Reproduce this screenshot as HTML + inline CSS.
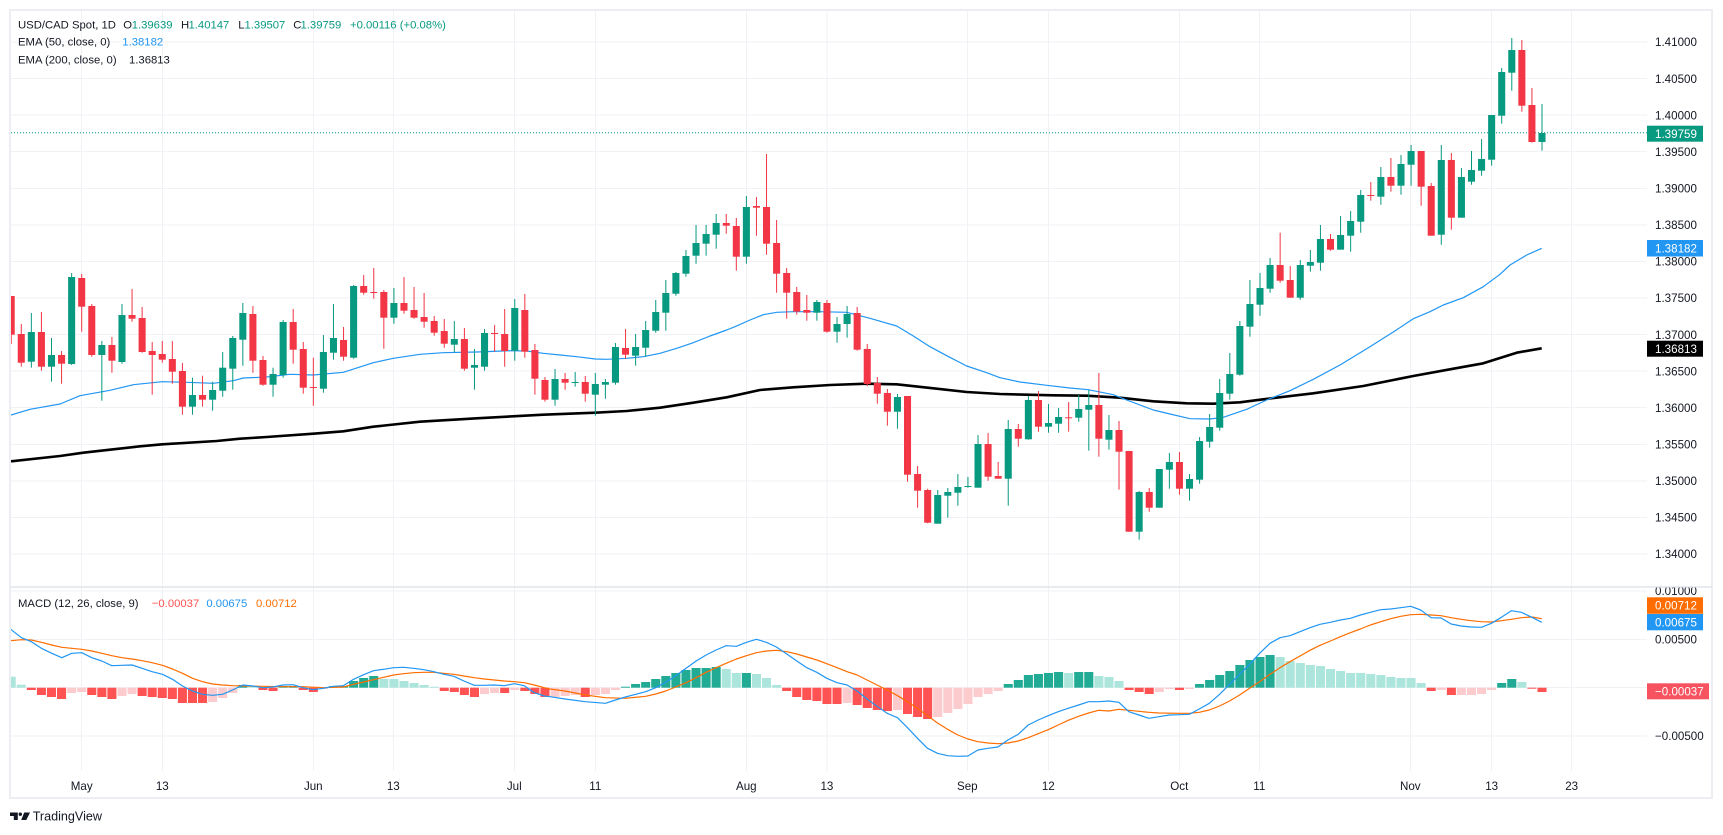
<!DOCTYPE html>
<html><head><meta charset="utf-8"><style>
html,body{margin:0;padding:0;background:#fff;}
svg{display:block;}
text{font-family:"Liberation Sans",Arial,sans-serif;fill:#131722;}
</style></head><body>
<svg width="1723" height="835" viewBox="0 0 1723 835" xmlns="http://www.w3.org/2000/svg">
<defs>
<clipPath id="cp"><rect x="11" y="11" width="1636" height="575"/></clipPath>
<clipPath id="cm"><rect x="11" y="588" width="1636" height="183"/></clipPath>
</defs>
<rect width="1723" height="835" fill="#fff"/>
<rect x="10" y="10" width="1702" height="788" fill="#fff" stroke="#eceef3" stroke-width="2"/>
<!-- grid -->
<g stroke="#f0f2f6" stroke-width="1" shape-rendering="crispEdges">
<line x1="11" x2="1647" y1="42" y2="42"/><line x1="11" x2="1647" y1="78.6" y2="78.6"/><line x1="11" x2="1647" y1="115.1" y2="115.1"/><line x1="11" x2="1647" y1="151.7" y2="151.7"/><line x1="11" x2="1647" y1="188.3" y2="188.3"/><line x1="11" x2="1647" y1="224.9" y2="224.9"/><line x1="11" x2="1647" y1="261.4" y2="261.4"/><line x1="11" x2="1647" y1="298" y2="298"/><line x1="11" x2="1647" y1="334.6" y2="334.6"/><line x1="11" x2="1647" y1="371.1" y2="371.1"/><line x1="11" x2="1647" y1="407.7" y2="407.7"/><line x1="11" x2="1647" y1="444.3" y2="444.3"/><line x1="11" x2="1647" y1="480.9" y2="480.9"/><line x1="11" x2="1647" y1="517.4" y2="517.4"/><line x1="11" x2="1647" y1="554" y2="554"/>
<line x1="11" x2="1647" y1="591" y2="591"/><line x1="11" x2="1647" y1="639.3" y2="639.3"/><line x1="11" x2="1647" y1="687.7" y2="687.7"/><line x1="11" x2="1647" y1="736" y2="736"/>
<line y1="11" y2="771" x1="81.7" x2="81.7"/><line y1="11" y2="771" x1="162.3" x2="162.3"/><line y1="11" y2="771" x1="313.3" x2="313.3"/><line y1="11" y2="771" x1="393.3" x2="393.3"/><line y1="11" y2="771" x1="514.3" x2="514.3"/><line y1="11" y2="771" x1="595.3" x2="595.3"/><line y1="11" y2="771" x1="746.3" x2="746.3"/><line y1="11" y2="771" x1="826.9" x2="826.9"/><line y1="11" y2="771" x1="967.3" x2="967.3"/><line y1="11" y2="771" x1="1048.3" x2="1048.3"/><line y1="11" y2="771" x1="1179.3" x2="1179.3"/><line y1="11" y2="771" x1="1259.3" x2="1259.3"/><line y1="11" y2="771" x1="1410.3" x2="1410.3"/><line y1="11" y2="771" x1="1491.7" x2="1491.7"/><line y1="11" y2="771" x1="1571.7" x2="1571.7"/>
</g>
<line x1="11" x2="1712" y1="587" y2="587" stroke="#e0e3eb" stroke-width="1.2"/>

<!-- price pane -->
<g clip-path="url(#cp)">
<polyline fill="none" stroke="#000" stroke-width="2.6" stroke-linejoin="round" points="11,461.3 60,456 83.3,452.7 110,449.7 140,446.3 162.3,444.3 216.7,441 240,438.7 266.7,437 313.3,433.7 343.3,431.3 373.3,426.7 420,421.7 476.7,418.3 543.3,414.7 595.3,412.7 626.7,411 660,407.7 693.3,402.7 726.7,397.3 760,390 793.3,387.3 830,385 866.7,383.7 896.7,384.3 936.7,388.7 966.7,392 1000,394 1053.3,395.3 1086.7,395.7 1120,397.7 1153.3,401.3 1186.7,403.3 1213.3,403.7 1240,402.3 1263.3,399.3 1313.3,393.3 1363.3,386 1413.3,376 1450,369.3 1483.3,363.3 1516.7,352.7 1541.7,348.3"/>
<polyline fill="none" stroke="#2196f3" stroke-width="1.2" stroke-linejoin="round" points="11,415 30,409.3 60,404 80,395.7 110,390.3 133.3,384.7 162.3,381.7 186.7,382.3 213.3,383.3 233.3,380.7 243.3,378 266.7,377 290,374.3 313.3,375 343.3,372.3 373.3,362.7 393.3,358.3 420,354.3 443.3,352.7 476.7,352 510,350.7 526.7,351 543.3,353.3 560,355 576.7,356.7 595.3,359 606.7,359.3 626.7,358.3 643.3,356.7 660,353.3 676.7,348.3 693.3,342.7 710,336 726.7,330 735,326.7 750,320 763.3,314.7 776.7,312.3 793.3,311.7 820,311.7 846.7,312.3 870,318.3 896.7,326 913.3,336 930,346.7 946.7,355.7 966.7,366 986.7,372.7 1000,377.7 1020,382 1046.7,385.3 1070,388 1088.3,389.7 1113.3,394.7 1126.7,400 1153.3,410 1170,414 1190,418.7 1210,419 1223.3,417.3 1246.7,409.3 1266.7,400 1290,390.7 1313.3,379.3 1340,365 1366.7,348.7 1393.3,332 1413.3,318.7 1430,311.7 1443.3,305 1463.3,297.7 1483.3,286.7 1500,274.3 1510,265 1526.7,255 1541.7,248.3"/>
<line x1="11" x2="1647" y1="132.8" y2="132.8" stroke="#089981" stroke-width="1" stroke-dasharray="1 2"/>
<g transform="translate(81.7 0) scale(10.071 1)">
<g fill="#089981">
<rect x="-5.05" y="313" width="0.1" height="54.7"/><rect x="-5.35" y="332" width="0.7" height="29.7"/>
<rect x="-3.05" y="338" width="0.1" height="43.7"/><rect x="-3.35" y="355" width="0.7" height="11.7"/>
<rect x="-1.05" y="273" width="0.1" height="92"/><rect x="-1.35" y="277" width="0.7" height="87"/>
<rect x="1.95" y="341" width="0.1" height="59.7"/><rect x="1.65" y="345" width="0.7" height="10"/>
<rect x="3.95" y="304" width="0.1" height="59.7"/><rect x="3.65" y="315" width="0.7" height="47"/>
<rect x="10.95" y="377.7" width="0.1" height="37"/><rect x="10.65" y="395" width="0.7" height="11.7"/>
<rect x="12.95" y="381.7" width="0.1" height="29"/><rect x="12.65" y="390" width="0.7" height="9.7"/>
<rect x="13.95" y="352" width="0.1" height="44.7"/><rect x="13.65" y="367.7" width="0.7" height="23"/>
<rect x="14.95" y="336" width="0.1" height="53.7"/><rect x="14.65" y="338" width="0.7" height="30.7"/>
<rect x="15.95" y="303" width="0.1" height="62.7"/><rect x="15.65" y="313" width="0.7" height="26.7"/>
<rect x="18.95" y="367.7" width="0.1" height="29"/><rect x="18.65" y="374" width="0.7" height="10.7"/>
<rect x="19.95" y="320" width="0.1" height="57.7"/><rect x="19.65" y="322" width="0.7" height="53"/>
<rect x="23.95" y="335" width="0.1" height="57.7"/><rect x="23.65" y="352" width="0.7" height="36.7"/>
<rect x="24.95" y="304" width="0.1" height="55.7"/><rect x="24.65" y="338" width="0.7" height="14.7"/>
<rect x="26.95" y="285" width="0.1" height="73.7"/><rect x="26.65" y="286" width="0.7" height="71.7"/>
<rect x="30.95" y="288" width="0.1" height="35.7"/><rect x="30.65" y="303" width="0.7" height="14.7"/>
<rect x="36.95" y="321" width="0.1" height="31.3"/><rect x="36.65" y="339" width="0.7" height="5.7"/>
<rect x="38.95" y="349" width="0.1" height="40.7"/><rect x="38.65" y="365" width="0.7" height="2.7"/>
<rect x="39.95" y="329" width="0.1" height="41.7"/><rect x="39.65" y="333" width="0.7" height="33.7"/>
<rect x="42.95" y="299" width="0.1" height="61.7"/><rect x="42.65" y="308" width="0.7" height="42.7"/>
<rect x="46.95" y="369" width="0.1" height="36.7"/><rect x="46.65" y="379" width="0.7" height="20.7"/>
<rect x="48.95" y="372" width="0.1" height="14.7"/><rect x="48.65" y="382" width="0.7" height="1"/>
<rect x="50.95" y="373" width="0.1" height="42.7"/><rect x="50.65" y="384" width="0.7" height="10.7"/>
<rect x="51.95" y="379" width="0.1" height="19.7"/><rect x="51.65" y="382" width="0.7" height="2.7"/>
<rect x="52.95" y="343" width="0.1" height="41.7"/><rect x="52.65" y="347" width="0.7" height="35.7"/>
<rect x="54.95" y="334" width="0.1" height="31.7"/><rect x="54.65" y="347" width="0.7" height="8.7"/>
<rect x="55.95" y="321" width="0.1" height="35.7"/><rect x="55.65" y="330" width="0.7" height="17.7"/>
<rect x="56.95" y="300" width="0.1" height="32.7"/><rect x="56.65" y="312" width="0.7" height="18.7"/>
<rect x="57.95" y="280" width="0.1" height="50.7"/><rect x="57.65" y="293" width="0.7" height="19.7"/>
<rect x="58.95" y="272" width="0.1" height="23.7"/><rect x="58.65" y="273" width="0.7" height="20.7"/>
<rect x="59.95" y="250" width="0.1" height="26.7"/><rect x="59.65" y="256" width="0.7" height="17.7"/>
<rect x="60.95" y="225" width="0.1" height="38.7"/><rect x="60.65" y="243" width="0.7" height="12.7"/>
<rect x="61.95" y="225" width="0.1" height="30.7"/><rect x="61.65" y="234" width="0.7" height="9.7"/>
<rect x="62.95" y="214" width="0.1" height="34.7"/><rect x="62.65" y="223" width="0.7" height="11.7"/>
<rect x="65.95" y="196" width="0.1" height="67.7"/><rect x="65.65" y="207" width="0.7" height="49.7"/>
<rect x="72.95" y="300" width="0.1" height="20.7"/><rect x="72.65" y="302" width="0.7" height="10.7"/>
<rect x="74.95" y="317" width="0.1" height="25.7"/><rect x="74.65" y="324" width="0.7" height="7.7"/>
<rect x="75.95" y="306" width="0.1" height="31.7"/><rect x="75.65" y="314" width="0.7" height="10"/>
<rect x="80.95" y="394" width="0.1" height="34.7"/><rect x="80.65" y="397" width="0.7" height="14.7"/>
<rect x="84.95" y="490" width="0.1" height="33.7"/><rect x="84.65" y="495" width="0.7" height="28.7"/>
<rect x="85.95" y="488" width="0.1" height="29.7"/><rect x="85.65" y="492" width="0.7" height="3.7"/>
<rect x="86.95" y="474" width="0.1" height="31.7"/><rect x="86.65" y="487" width="0.7" height="5.7"/>
<rect x="87.95" y="477" width="0.1" height="10.7"/><rect x="87.65" y="486" width="0.7" height="1"/>
<rect x="88.95" y="435" width="0.1" height="52.7"/><rect x="88.65" y="444" width="0.7" height="43.7"/>
<rect x="91.95" y="420" width="0.1" height="85.7"/><rect x="91.65" y="429" width="0.7" height="49.7"/>
<rect x="93.95" y="396" width="0.1" height="43.7"/><rect x="93.65" y="400" width="0.7" height="39.3"/>
<rect x="95.95" y="404" width="0.1" height="28.7"/><rect x="95.65" y="423" width="0.7" height="3.7"/>
<rect x="96.95" y="408" width="0.1" height="24.7"/><rect x="96.65" y="417" width="0.7" height="6.7"/>
<rect x="98.95" y="395" width="0.1" height="26.7"/><rect x="98.65" y="409" width="0.7" height="8.7"/>
<rect x="99.95" y="390" width="0.1" height="60.7"/><rect x="99.65" y="405" width="0.7" height="4.7"/>
<rect x="101.95" y="415" width="0.1" height="34.7"/><rect x="101.65" y="430" width="0.7" height="9.7"/>
<rect x="104.95" y="491" width="0.1" height="48.7"/><rect x="104.65" y="492" width="0.7" height="39.7"/>
<rect x="106.95" y="469" width="0.1" height="38.7"/><rect x="106.65" y="469" width="0.7" height="38.7"/>
<rect x="107.95" y="453" width="0.1" height="35.7"/><rect x="107.65" y="462" width="0.7" height="7.7"/>
<rect x="109.95" y="474" width="0.1" height="26.7"/><rect x="109.65" y="479" width="0.7" height="9.7"/>
<rect x="110.95" y="437" width="0.1" height="46.7"/><rect x="110.65" y="441" width="0.7" height="38.7"/>
<rect x="111.95" y="414" width="0.1" height="33.7"/><rect x="111.65" y="427" width="0.7" height="14.7"/>
<rect x="112.95" y="379" width="0.1" height="51.7"/><rect x="112.65" y="393" width="0.7" height="34.7"/>
<rect x="113.95" y="353" width="0.1" height="46.7"/><rect x="113.65" y="374" width="0.7" height="19.7"/>
<rect x="114.95" y="321" width="0.1" height="54.7"/><rect x="114.65" y="326" width="0.7" height="48.7"/>
<rect x="115.95" y="280" width="0.1" height="56.7"/><rect x="115.65" y="304" width="0.7" height="22.7"/>
<rect x="116.95" y="273" width="0.1" height="42.7"/><rect x="116.65" y="288" width="0.7" height="16.7"/>
<rect x="117.95" y="258" width="0.1" height="34.7"/><rect x="117.65" y="265" width="0.7" height="23.7"/>
<rect x="120.95" y="260" width="0.1" height="39.7"/><rect x="120.65" y="265" width="0.7" height="32.7"/>
<rect x="121.95" y="250" width="0.1" height="21.7"/><rect x="121.65" y="262" width="0.7" height="3.7"/>
<rect x="122.95" y="225" width="0.1" height="45.7"/><rect x="122.65" y="239" width="0.7" height="23.7"/>
<rect x="124.95" y="216" width="0.1" height="33.7"/><rect x="124.65" y="235" width="0.7" height="14.7"/>
<rect x="125.95" y="211" width="0.1" height="40.7"/><rect x="125.65" y="221" width="0.7" height="14.7"/>
<rect x="126.95" y="190" width="0.1" height="42.7"/><rect x="126.65" y="195" width="0.7" height="26.7"/>
<rect x="128.95" y="167" width="0.1" height="37.7"/><rect x="128.65" y="177" width="0.7" height="19.7"/>
<rect x="130.95" y="155" width="0.1" height="39.7"/><rect x="130.65" y="164" width="0.7" height="21.7"/>
<rect x="131.95" y="145" width="0.1" height="40.7"/><rect x="131.65" y="151" width="0.7" height="13.7"/>
<rect x="134.95" y="145" width="0.1" height="99.7"/><rect x="134.65" y="160" width="0.7" height="74.7"/>
<rect x="136.95" y="168" width="0.1" height="49.7"/><rect x="136.65" y="177" width="0.7" height="40.7"/>
<rect x="137.95" y="151" width="0.1" height="33.7"/><rect x="137.65" y="170" width="0.7" height="11.7"/>
<rect x="138.95" y="139" width="0.1" height="36.7"/><rect x="138.65" y="159" width="0.7" height="11.7"/>
<rect x="139.95" y="115" width="0.1" height="50.7"/><rect x="139.65" y="115" width="0.7" height="44.7"/>
<rect x="140.95" y="68" width="0.1" height="55.7"/><rect x="140.65" y="72" width="0.7" height="43.7"/>
<rect x="141.95" y="38" width="0.1" height="52.7"/><rect x="141.65" y="50" width="0.7" height="22.7"/>
<rect x="144.95" y="104" width="0.1" height="46.7"/><rect x="144.65" y="133" width="0.7" height="9"/>
</g>
<g fill="#f23645">
<rect x="-7.05" y="296" width="0.1" height="48"/><rect x="-7.35" y="296" width="0.7" height="38.7"/>
<rect x="-6.05" y="324" width="0.1" height="42.7"/><rect x="-6.35" y="334" width="0.7" height="28.7"/>
<rect x="-4.05" y="312" width="0.1" height="58.7"/><rect x="-4.35" y="332" width="0.7" height="34.7"/>
<rect x="-2.05" y="351" width="0.1" height="32.7"/><rect x="-2.35" y="355" width="0.7" height="8.7"/>
<rect x="-0.05" y="274" width="0.1" height="57.7"/><rect x="-0.35" y="278" width="0.7" height="28.7"/>
<rect x="0.95" y="304" width="0.1" height="52.7"/><rect x="0.65" y="306" width="0.7" height="49"/>
<rect x="2.95" y="337" width="0.1" height="35.7"/><rect x="2.65" y="345" width="0.7" height="15.7"/>
<rect x="4.95" y="289" width="0.1" height="32.7"/><rect x="4.65" y="315" width="0.7" height="3.7"/>
<rect x="5.95" y="307" width="0.1" height="45.7"/><rect x="5.65" y="318" width="0.7" height="34"/>
<rect x="6.95" y="342" width="0.1" height="52.7"/><rect x="6.65" y="351" width="0.7" height="4"/>
<rect x="7.95" y="341" width="0.1" height="21.7"/><rect x="7.65" y="354" width="0.7" height="5.7"/>
<rect x="8.95" y="341" width="0.1" height="42.7"/><rect x="8.65" y="359" width="0.7" height="12.7"/>
<rect x="9.95" y="363" width="0.1" height="51.7"/><rect x="9.65" y="371" width="0.7" height="35.7"/>
<rect x="11.95" y="375.7" width="0.1" height="31"/><rect x="11.65" y="395" width="0.7" height="4.7"/>
<rect x="16.95" y="306" width="0.1" height="66.7"/><rect x="16.65" y="314" width="0.7" height="46.7"/>
<rect x="17.95" y="356" width="0.1" height="29.7"/><rect x="17.65" y="360" width="0.7" height="24.7"/>
<rect x="20.95" y="309" width="0.1" height="54.7"/><rect x="20.65" y="322" width="0.7" height="27.7"/>
<rect x="21.95" y="342" width="0.1" height="51.7"/><rect x="21.65" y="349" width="0.7" height="38.7"/>
<rect x="22.95" y="357.7" width="0.1" height="48"/><rect x="22.65" y="387" width="0.7" height="1"/>
<rect x="25.95" y="327" width="0.1" height="33.7"/><rect x="25.65" y="340" width="0.7" height="16.7"/>
<rect x="27.95" y="275" width="0.1" height="19.7"/><rect x="27.65" y="286" width="0.7" height="6.7"/>
<rect x="28.95" y="268" width="0.1" height="30.7"/><rect x="28.65" y="292" width="0.7" height="1"/>
<rect x="29.95" y="290" width="0.1" height="58.7"/><rect x="29.65" y="292" width="0.7" height="25.7"/>
<rect x="31.95" y="277" width="0.1" height="36.7"/><rect x="31.65" y="303" width="0.7" height="7.7"/>
<rect x="32.95" y="287" width="0.1" height="31.7"/><rect x="32.65" y="310" width="0.7" height="7.7"/>
<rect x="33.95" y="293" width="0.1" height="34.7"/><rect x="33.65" y="317" width="0.7" height="4.7"/>
<rect x="34.95" y="316" width="0.1" height="19.7"/><rect x="34.65" y="321" width="0.7" height="11.7"/>
<rect x="35.95" y="319" width="0.1" height="28.7"/><rect x="35.65" y="331" width="0.7" height="12.7"/>
<rect x="37.95" y="328" width="0.1" height="42.7"/><rect x="37.65" y="339" width="0.7" height="29.7"/>
<rect x="40.95" y="325" width="0.1" height="26.7"/><rect x="40.65" y="333" width="0.7" height="1"/>
<rect x="41.95" y="309" width="0.1" height="57.7"/><rect x="41.65" y="334" width="0.7" height="17"/>
<rect x="43.95" y="294" width="0.1" height="63.7"/><rect x="43.65" y="310" width="0.7" height="41.7"/>
<rect x="44.95" y="344" width="0.1" height="50.7"/><rect x="44.65" y="350" width="0.7" height="28.7"/>
<rect x="45.95" y="377" width="0.1" height="24.7"/><rect x="45.65" y="380" width="0.7" height="19.7"/>
<rect x="47.95" y="373" width="0.1" height="16.7"/><rect x="47.65" y="379" width="0.7" height="3.7"/>
<rect x="49.95" y="376" width="0.1" height="25.7"/><rect x="49.65" y="382" width="0.7" height="11.7"/>
<rect x="53.95" y="329" width="0.1" height="29.7"/><rect x="53.65" y="348" width="0.7" height="6.7"/>
<rect x="63.95" y="214" width="0.1" height="19.7"/><rect x="63.65" y="223" width="0.7" height="2.7"/>
<rect x="64.95" y="218" width="0.1" height="52.7"/><rect x="64.65" y="226" width="0.7" height="30.7"/>
<rect x="66.95" y="197" width="0.1" height="38.7"/><rect x="66.65" y="206" width="0.7" height="1.7"/>
<rect x="67.95" y="154" width="0.1" height="100.7"/><rect x="67.65" y="207" width="0.7" height="36.7"/>
<rect x="68.95" y="220" width="0.1" height="72.7"/><rect x="68.65" y="243" width="0.7" height="30.7"/>
<rect x="69.95" y="268" width="0.1" height="50.7"/><rect x="69.65" y="273" width="0.7" height="19.7"/>
<rect x="70.95" y="287" width="0.1" height="27.7"/><rect x="70.65" y="292" width="0.7" height="19.7"/>
<rect x="71.95" y="295" width="0.1" height="25.7"/><rect x="71.65" y="310" width="0.7" height="2.7"/>
<rect x="73.95" y="300" width="0.1" height="32.7"/><rect x="73.65" y="303" width="0.7" height="28.7"/>
<rect x="76.95" y="307" width="0.1" height="43.7"/><rect x="76.65" y="313" width="0.7" height="36.7"/>
<rect x="77.95" y="344" width="0.1" height="42"/><rect x="77.65" y="349" width="0.7" height="35"/>
<rect x="78.95" y="377" width="0.1" height="26.7"/><rect x="78.65" y="383" width="0.7" height="10.7"/>
<rect x="79.95" y="389" width="0.1" height="36.7"/><rect x="79.65" y="393" width="0.7" height="18.7"/>
<rect x="81.95" y="396" width="0.1" height="85.7"/><rect x="81.65" y="396" width="0.7" height="78.7"/>
<rect x="82.95" y="466" width="0.1" height="41.7"/><rect x="82.65" y="474" width="0.7" height="16.7"/>
<rect x="83.95" y="488.7" width="0.1" height="34.6"/><rect x="83.65" y="490" width="0.7" height="32.7"/>
<rect x="89.95" y="433" width="0.1" height="47.7"/><rect x="89.65" y="444" width="0.7" height="32.7"/>
<rect x="90.95" y="462" width="0.1" height="16.7"/><rect x="90.65" y="476" width="0.7" height="2.7"/>
<rect x="92.95" y="424" width="0.1" height="22.7"/><rect x="92.65" y="429" width="0.7" height="9.7"/>
<rect x="94.95" y="391" width="0.1" height="40.7"/><rect x="94.65" y="400" width="0.7" height="26.7"/>
<rect x="97.95" y="402" width="0.1" height="29.7"/><rect x="97.65" y="417.3" width="0.7" height="1"/>
<rect x="100.95" y="373" width="0.1" height="83.7"/><rect x="100.65" y="405" width="0.7" height="33.7"/>
<rect x="102.95" y="421" width="0.1" height="68.7"/><rect x="102.65" y="430" width="0.7" height="21.7"/>
<rect x="103.95" y="451" width="0.1" height="80.7"/><rect x="103.65" y="451" width="0.7" height="80.7"/>
<rect x="105.95" y="488" width="0.1" height="23.7"/><rect x="105.65" y="492" width="0.7" height="15.7"/>
<rect x="108.95" y="452" width="0.1" height="42.7"/><rect x="108.65" y="462" width="0.7" height="26.7"/>
<rect x="118.95" y="232.7" width="0.1" height="50"/><rect x="118.65" y="265" width="0.7" height="15.7"/>
<rect x="119.95" y="266" width="0.1" height="31.7"/><rect x="119.65" y="280" width="0.7" height="17.7"/>
<rect x="123.95" y="234" width="0.1" height="16.7"/><rect x="123.65" y="239" width="0.7" height="10.7"/>
<rect x="127.95" y="182" width="0.1" height="18.7"/><rect x="127.65" y="195" width="0.7" height="1"/>
<rect x="129.95" y="158" width="0.1" height="33.7"/><rect x="129.65" y="177" width="0.7" height="8.7"/>
<rect x="132.95" y="151" width="0.1" height="54.7"/><rect x="132.65" y="151" width="0.7" height="35.7"/>
<rect x="133.95" y="183" width="0.1" height="52.7"/><rect x="133.65" y="186" width="0.7" height="49.7"/>
<rect x="135.95" y="153" width="0.1" height="76.7"/><rect x="135.65" y="160" width="0.7" height="57.7"/>
<rect x="142.95" y="40" width="0.1" height="71.7"/><rect x="142.65" y="50" width="0.7" height="55.7"/>
<rect x="143.95" y="88" width="0.1" height="54.7"/><rect x="143.65" y="105" width="0.7" height="37"/>
</g>
</g>
</g>

<!-- MACD pane -->
<g clip-path="url(#cm)">
<g transform="translate(81.7 0) scale(10.071 1)">
<g fill="#22ab94">
<rect x="15.55" y="685" width="0.9" height="2.7"/><rect x="19.55" y="686" width="0.9" height="1.7"/><rect x="20.55" y="686" width="0.9" height="1.7"/><rect x="24.55" y="686" width="0.9" height="1.7"/><rect x="25.55" y="686" width="0.9" height="1.7"/><rect x="26.55" y="681" width="0.9" height="6.7"/><rect x="27.55" y="678" width="0.9" height="9.7"/><rect x="28.55" y="676" width="0.9" height="11.7"/>
<rect x="53.55" y="686.7" width="0.9" height="1"/><rect x="54.55" y="684" width="0.9" height="3.7"/><rect x="55.55" y="682" width="0.9" height="5.7"/><rect x="56.55" y="679" width="0.9" height="8.7"/><rect x="57.55" y="676" width="0.9" height="11.7"/><rect x="58.55" y="673" width="0.9" height="14.7"/><rect x="59.55" y="670" width="0.9" height="17.7"/><rect x="60.55" y="668" width="0.9" height="19.7"/><rect x="61.55" y="668" width="0.9" height="19.7"/><rect x="62.55" y="667" width="0.9" height="20.7"/><rect x="65.55" y="673" width="0.9" height="14.7"/>
<rect x="91.55" y="684" width="0.9" height="3.7"/><rect x="92.55" y="680" width="0.9" height="7.7"/><rect x="93.55" y="675" width="0.9" height="12.7"/><rect x="94.55" y="674" width="0.9" height="13.7"/><rect x="95.55" y="673" width="0.9" height="14.7"/><rect x="96.55" y="672" width="0.9" height="15.7"/><rect x="98.55" y="672" width="0.9" height="15.7"/><rect x="99.55" y="672" width="0.9" height="15.7"/>
<rect x="110.55" y="684" width="0.9" height="3.7"/><rect x="111.55" y="680" width="0.9" height="7.7"/><rect x="112.55" y="675" width="0.9" height="12.7"/><rect x="113.55" y="671" width="0.9" height="16.7"/><rect x="114.55" y="665" width="0.9" height="22.7"/><rect x="115.55" y="660" width="0.9" height="27.7"/><rect x="116.55" y="657" width="0.9" height="30.7"/><rect x="117.55" y="655" width="0.9" height="32.7"/>
<rect x="140.55" y="683" width="0.9" height="4.7"/><rect x="141.55" y="679" width="0.9" height="8.7"/>
</g>
<g fill="#ace5dc">
<rect x="-7.45" y="676.7" width="0.9" height="11"/><rect x="-6.45" y="684.7" width="0.9" height="3"/><rect x="16.55" y="686" width="0.9" height="1.7"/>
<rect x="29.55" y="679" width="0.9" height="8.7"/><rect x="30.55" y="679" width="0.9" height="8.7"/><rect x="31.55" y="681" width="0.9" height="6.7"/><rect x="32.55" y="683" width="0.9" height="4.7"/><rect x="33.55" y="685" width="0.9" height="2.7"/><rect x="34.55" y="686.7" width="0.9" height="1"/>
<rect x="63.55" y="669" width="0.9" height="18.7"/><rect x="64.55" y="673" width="0.9" height="14.7"/><rect x="66.55" y="674" width="0.9" height="13.7"/><rect x="67.55" y="678" width="0.9" height="9.7"/><rect x="68.55" y="685" width="0.9" height="2.7"/>
<rect x="97.55" y="673" width="0.9" height="14.7"/><rect x="100.55" y="676" width="0.9" height="11.7"/><rect x="101.55" y="677" width="0.9" height="10.7"/><rect x="102.55" y="681" width="0.9" height="6.7"/>
<rect x="118.55" y="657" width="0.9" height="30.7"/><rect x="119.55" y="661" width="0.9" height="26.7"/><rect x="120.55" y="663" width="0.9" height="24.7"/><rect x="121.55" y="665" width="0.9" height="22.7"/><rect x="122.55" y="666" width="0.9" height="21.7"/><rect x="123.55" y="669" width="0.9" height="18.7"/><rect x="124.55" y="671" width="0.9" height="16.7"/><rect x="125.55" y="673" width="0.9" height="14.7"/><rect x="126.55" y="673" width="0.9" height="14.7"/><rect x="127.55" y="674" width="0.9" height="13.7"/><rect x="128.55" y="675" width="0.9" height="12.7"/><rect x="129.55" y="677" width="0.9" height="10.7"/><rect x="130.55" y="678" width="0.9" height="9.7"/><rect x="131.55" y="678" width="0.9" height="9.7"/><rect x="132.55" y="683" width="0.9" height="4.7"/>
<rect x="142.55" y="682" width="0.9" height="5.7"/>
</g>
<g fill="#ff5252">
<rect x="-5.45" y="687.7" width="0.9" height="2.3"/><rect x="-4.45" y="687.7" width="0.9" height="7.3"/><rect x="-3.45" y="687.7" width="0.9" height="9.3"/><rect x="-2.45" y="687.7" width="0.9" height="11.3"/>
<rect x="0.55" y="687.7" width="0.9" height="7.3"/><rect x="1.55" y="687.7" width="0.9" height="9.3"/><rect x="2.55" y="687.7" width="0.9" height="11.3"/>
<rect x="5.55" y="687.7" width="0.9" height="8.3"/><rect x="6.55" y="687.7" width="0.9" height="9.3"/><rect x="7.55" y="687.7" width="0.9" height="10.3"/><rect x="8.55" y="687.7" width="0.9" height="11.3"/><rect x="9.55" y="687.7" width="0.9" height="15.3"/><rect x="10.55" y="687.7" width="0.9" height="15.3"/><rect x="11.55" y="687.7" width="0.9" height="15.3"/>
<rect x="17.55" y="687.7" width="0.9" height="2.3"/><rect x="18.55" y="687.7" width="0.9" height="3.3"/><rect x="21.55" y="687.7" width="0.9" height="2.3"/><rect x="22.55" y="687.7" width="0.9" height="4.3"/>
<rect x="35.55" y="687.7" width="0.9" height="3.3"/><rect x="36.55" y="687.7" width="0.9" height="4.3"/><rect x="37.55" y="687.7" width="0.9" height="7.3"/><rect x="38.55" y="687.7" width="0.9" height="9.3"/>
<rect x="41.55" y="687.7" width="0.9" height="5.3"/><rect x="43.55" y="687.7" width="0.9" height="3.3"/><rect x="44.55" y="687.7" width="0.9" height="6.3"/><rect x="45.55" y="687.7" width="0.9" height="9.3"/><rect x="49.55" y="687.7" width="0.9" height="9.3"/>
<rect x="69.55" y="687.7" width="0.9" height="3.3"/><rect x="70.55" y="687.7" width="0.9" height="9.3"/><rect x="71.55" y="687.7" width="0.9" height="12.3"/><rect x="72.55" y="687.7" width="0.9" height="13.3"/><rect x="73.55" y="687.7" width="0.9" height="16.3"/><rect x="74.55" y="687.7" width="0.9" height="16.3"/>
<rect x="76.55" y="687.7" width="0.9" height="17.3"/><rect x="77.55" y="687.7" width="0.9" height="20.3"/><rect x="78.55" y="687.7" width="0.9" height="22.3"/><rect x="79.55" y="687.7" width="0.9" height="23.3"/>
<rect x="81.55" y="687.7" width="0.9" height="26.3"/><rect x="82.55" y="687.7" width="0.9" height="29.3"/><rect x="83.55" y="687.7" width="0.9" height="31.3"/>
<rect x="103.55" y="687.7" width="0.9" height="2.3"/><rect x="104.55" y="687.7" width="0.9" height="4.3"/><rect x="105.55" y="687.7" width="0.9" height="6.3"/><rect x="108.55" y="687.7" width="0.9" height="2.3"/>
<rect x="133.55" y="687.7" width="0.9" height="3.3"/><rect x="135.55" y="687.7" width="0.9" height="7.3"/><rect x="143.55" y="687.7" width="0.9" height="1"/><rect x="144.55" y="687.7" width="0.9" height="4.3"/>
</g>
<g fill="#fccbcd">
<rect x="-1.45" y="687.7" width="0.9" height="5.3"/><rect x="-0.45" y="687.7" width="0.9" height="4.3"/><rect x="3.55" y="687.7" width="0.9" height="8.3"/><rect x="4.55" y="687.7" width="0.9" height="6.3"/>
<rect x="12.55" y="687.7" width="0.9" height="14.3"/><rect x="13.55" y="687.7" width="0.9" height="10.3"/><rect x="14.55" y="687.7" width="0.9" height="5.3"/><rect x="23.55" y="687.7" width="0.9" height="1.3"/>
<rect x="39.55" y="687.7" width="0.9" height="6.3"/><rect x="40.55" y="687.7" width="0.9" height="5.3"/><rect x="42.55" y="687.7" width="0.9" height="2.3"/>
<rect x="46.55" y="687.7" width="0.9" height="9.3"/><rect x="47.55" y="687.7" width="0.9" height="8.3"/><rect x="48.55" y="687.7" width="0.9" height="7.3"/><rect x="50.55" y="687.7" width="0.9" height="7.3"/><rect x="51.55" y="687.7" width="0.9" height="6.3"/><rect x="52.55" y="687.7" width="0.9" height="2.3"/>
<rect x="75.55" y="687.7" width="0.9" height="15.3"/><rect x="80.55" y="687.7" width="0.9" height="22.3"/>
<rect x="84.55" y="687.7" width="0.9" height="29.3"/><rect x="85.55" y="687.7" width="0.9" height="25.3"/><rect x="86.55" y="687.7" width="0.9" height="21.3"/><rect x="87.55" y="687.7" width="0.9" height="16.3"/><rect x="88.55" y="687.7" width="0.9" height="9.3"/><rect x="89.55" y="687.7" width="0.9" height="6.3"/><rect x="90.55" y="687.7" width="0.9" height="3.3"/>
<rect x="106.55" y="687.7" width="0.9" height="4.3"/><rect x="107.55" y="687.7" width="0.9" height="1.3"/><rect x="109.55" y="687.7" width="0.9" height="1.3"/>
<rect x="134.55" y="687.7" width="0.9" height="2.3"/><rect x="136.55" y="687.7" width="0.9" height="7.3"/><rect x="137.55" y="687.7" width="0.9" height="7.3"/><rect x="138.55" y="687.7" width="0.9" height="6.3"/><rect x="139.55" y="687.7" width="0.9" height="2.3"/>
</g>
</g>
<polyline fill="none" stroke="#ff6d00" stroke-width="1.2" stroke-linejoin="round" points="10.7,640.7 21.4,639.7 31.4,640 41.4,642.3 51.8,645 61.8,647.3 71.8,648.3 81.8,649.3 91.8,651 101.8,653.3 111.8,655.7 122.1,657.7 132.1,659 142.1,660.7 152.1,662.7 162.5,665.3 172.5,669 182.5,673.3 192.5,678.3 202.5,681.7 212.5,684 222.5,685 232.5,685.7 242.9,686 262.9,686.3 282.9,686.7 303.2,686.7 323.2,687.7 343.2,687 353.6,684.3 363.6,682 373.6,679.7 383.6,677.3 393.6,675 403.6,673.7 413.6,672.7 423.9,672.3 433.9,672.3 443.9,673.3 453.9,674.3 463.9,676 474.3,677.7 484.3,679 494.3,680 504.3,681 514.3,681.7 524.3,682.7 534.3,685 544.3,687.7 550,689 565,691 585.4,695 605.4,697.7 625.4,698.3 645.7,696.3 655.7,694 665.7,691 675.7,687 686.1,682.7 696.1,677.7 706.1,672.3 716.1,667.7 726.1,663.3 736.4,659 746.4,655.7 756.4,652.7 766.4,651 776.4,650.3 786.8,651.7 796.8,654 806.8,657 816.8,660 826.8,663.7 837.1,667.7 847.1,671.7 857.1,675 867.1,680 877.1,685 887.1,690 897.5,695.7 907.5,701.7 917.5,708.3 927.5,715.7 937.5,723 947.5,729.3 957.9,735 967.9,739 977.9,741.7 987.9,743 997.9,743.7 1007.9,743 1018.2,741 1028.2,737.7 1038.2,733.7 1048.2,729.7 1058.2,725 1068.2,720.3 1078.6,716.3 1088.6,713 1098.6,710.3 1108.9,711 1118.9,709.3 1128.9,710.3 1138.9,711.3 1148.9,712.3 1158.9,713 1179.3,713.3 1189.3,713.3 1199.3,712.3 1209.3,710 1219.6,706 1229.6,701 1239.6,695 1249.6,688.3 1259.6,681.7 1270,674.3 1280,667.7 1290,661.7 1300,656 1310,650.3 1320,645.3 1330.4,641 1340.4,636.7 1350.4,632.7 1360.4,629 1370.4,625 1380.7,621.7 1390.7,618.7 1400.7,616.3 1410.7,614.7 1420.7,614.3 1431.1,615 1441.1,615.7 1451.1,617.7 1461.1,619.3 1471.1,620.7 1481.4,621.7 1491.4,622 1501.4,620.7 1511.4,619.3 1521.4,617.7 1531.8,617 1541.8,618.7"/>
<polyline fill="none" stroke="#2196f3" stroke-width="1.2" stroke-linejoin="round" points="10.7,629.3 21.4,637.7 31.4,641.7 41.4,648.3 51.8,653.3 61.8,657.7 71.8,653.3 81.8,652.7 91.8,657.7 101.8,661 111.8,665.7 122.1,665.3 132.1,665 142.1,668.3 152.1,671.7 162.5,674.3 172.5,679.3 182.5,686 192.5,691 202.5,694.3 212.5,695.3 222.5,694.3 232.5,690 242.9,685 252.9,686 262.9,687.7 272.9,687 282.9,685 292.9,684.7 303.2,687.7 313.2,689.7 323.2,688.3 333.2,686.3 343.2,685.7 353.6,679.3 363.6,674.7 373.6,670.7 383.6,669.3 393.6,667.7 403.6,667.3 413.6,668.3 423.9,669.7 433.9,671.7 443.9,674.3 453.9,676.3 463.9,681 474.3,685.3 484.3,685.3 494.3,685 504.3,685.7 514.3,683.7 524.3,685.7 534.3,692.7 544.3,696 550,696.7 565,699 585.4,701.7 605.4,703.3 615.4,700 625.4,697 635.7,694.3 645.7,691.7 655.7,687.7 665.7,682.3 675.7,675.7 686.1,668.3 696.1,661 706.1,655 716.1,650 726.1,645.7 736.4,646.3 746.4,642.3 756.4,639.3 766.4,642.3 776.4,647 786.8,654 796.8,661 806.8,667.7 816.8,672.3 826.8,678.3 837.1,682.7 847.1,685 857.1,691 867.1,699 877.1,706.3 887.1,713.3 897.5,717.7 907.5,727.7 917.5,738.3 927.5,748.3 937.5,753.3 947.5,755.7 957.9,756.3 967.9,756 977.9,750 987.9,748.3 997.9,747 1007.9,740 1018.2,734.3 1028.2,725 1038.2,720 1048.2,715.7 1058.2,711.7 1068.2,708.3 1078.6,705 1088.6,701.7 1098.6,701.7 1108.9,701 1118.9,702.3 1128.9,711.7 1138.9,715 1148.9,718.3 1158.9,716.7 1169.3,715 1179.3,714.7 1189.3,714.3 1199.3,709 1209.3,703.3 1219.6,694.3 1229.6,684.3 1239.6,674.3 1249.6,664.3 1259.6,653.3 1270,643.3 1280,637.7 1290,635.7 1300,631.7 1310,627.7 1320,624.3 1330.4,622.3 1340.4,620 1350.4,618.3 1360.4,615 1370.4,612.3 1380.7,609.7 1390.7,609 1400.7,607.7 1410.7,606.3 1420.7,610 1431.1,617.7 1441.1,618 1451.1,624 1461.1,626 1471.1,627 1481.4,627.3 1491.4,623.3 1501.4,617.3 1511.4,610.7 1521.4,612.3 1531.8,617.3 1541.8,622.3"/>
</g>

<!-- legends -->
<g font-size="11.3">
<text x="18" y="28.3">USD/CAD Spot, 1D</text>
<text x="123.3" y="28.3">O</text><text x="131.7" y="28.3" style="fill:#089981">1.39639</text>
<text x="181" y="28.3">H</text><text x="188.5" y="28.3" style="fill:#089981">1.40147</text>
<text x="238.3" y="28.3">L</text><text x="244.5" y="28.3" style="fill:#089981">1.39507</text>
<text x="293.3" y="28.3">C</text><text x="300.5" y="28.3" style="fill:#089981">1.39759</text>
<text x="350" y="28.3" style="fill:#089981">+0.00116 (+0.08%)</text>
<text x="18" y="45.7">EMA (50, close, 0)</text><text x="122.3" y="45.7" style="fill:#2196f3">1.38182</text>
<text x="18" y="63.3">EMA (200, close, 0)</text><text x="129" y="63.3">1.36813</text>
<text x="18" y="607">MACD (12, 26, close, 9)</text>
<text x="151.8" y="607" style="fill:#ff5252">−0.00037</text>
<text x="206.4" y="607" style="fill:#2196f3">0.00675</text>
<text x="256" y="607" style="fill:#ff6d00">0.00712</text>
</g>

<!-- price scale -->
<g font-size="11.6">
<text x="1655" y="46.2">1.41000</text><text x="1655" y="82.8">1.40500</text><text x="1655" y="119.3">1.40000</text><text x="1655" y="155.9">1.39500</text><text x="1655" y="192.5">1.39000</text><text x="1655" y="229.1">1.38500</text><text x="1655" y="265.6">1.38000</text><text x="1655" y="302.2">1.37500</text><text x="1655" y="338.8">1.37000</text><text x="1655" y="375.3">1.36500</text><text x="1655" y="411.9">1.36000</text><text x="1655" y="448.5">1.35500</text><text x="1655" y="485.1">1.35000</text><text x="1655" y="521.6">1.34500</text><text x="1655" y="558.2">1.34000</text>
<text x="1655" y="595.2">0.01000</text><text x="1655" y="643.5">0.00500</text><text x="1655" y="740.2">−0.00500</text>
</g>
<line x1="11" x2="1712" y1="587" y2="587" stroke="#e0e3eb" stroke-width="1.2"/>
<g font-size="11.6">
<rect x="1647" y="125.7" width="56" height="16" fill="#089981"/><text x="1655" y="137.8" style="fill:#fff">1.39759</text>
<rect x="1647" y="240" width="56" height="16.5" fill="#2196f3"/><text x="1655" y="252.3" style="fill:#fff">1.38182</text>
<rect x="1647" y="340.7" width="56" height="16" fill="#000"/><text x="1655" y="352.8" style="fill:#fff">1.36813</text>
<rect x="1647" y="597.3" width="56" height="16.5" fill="#ff6d00"/><text x="1655" y="609.6" style="fill:#fff">0.00712</text>
<rect x="1647" y="614" width="56" height="16.3" fill="#2196f3"/><text x="1655" y="626.3" style="fill:#fff">0.00675</text>
<rect x="1647" y="683.3" width="62" height="16" fill="#f7525f"/><text x="1655" y="695.4" style="fill:#fff">−0.00037</text>
</g>

<!-- time axis -->
<g font-size="11.6" text-anchor="middle">
<text x="81.7" y="790">May</text><text x="162.3" y="790">13</text><text x="313.3" y="790">Jun</text><text x="393.3" y="790">13</text><text x="514.3" y="790">Jul</text><text x="595.3" y="790">11</text><text x="746.3" y="790">Aug</text><text x="826.9" y="790">13</text><text x="967.3" y="790">Sep</text><text x="1048.3" y="790">12</text><text x="1179.3" y="790">Oct</text><text x="1259.3" y="790">11</text><text x="1410.3" y="790">Nov</text><text x="1491.7" y="790">13</text><text x="1571.7" y="790">23</text>
</g>

<!-- logo -->
<g fill="#131722">
<path d="M10 812.5 H17.8 V820 H13.8 V816 H10 Z"/>
<circle cx="20.3" cy="814.2" r="1.7"/>
<path d="M24.2 812.5 H30 L26.3 820 H21.2 Z"/>
</g>
<text x="32.7" y="820.5" font-size="12.6">TradingView</text>
</svg>
</body></html>
